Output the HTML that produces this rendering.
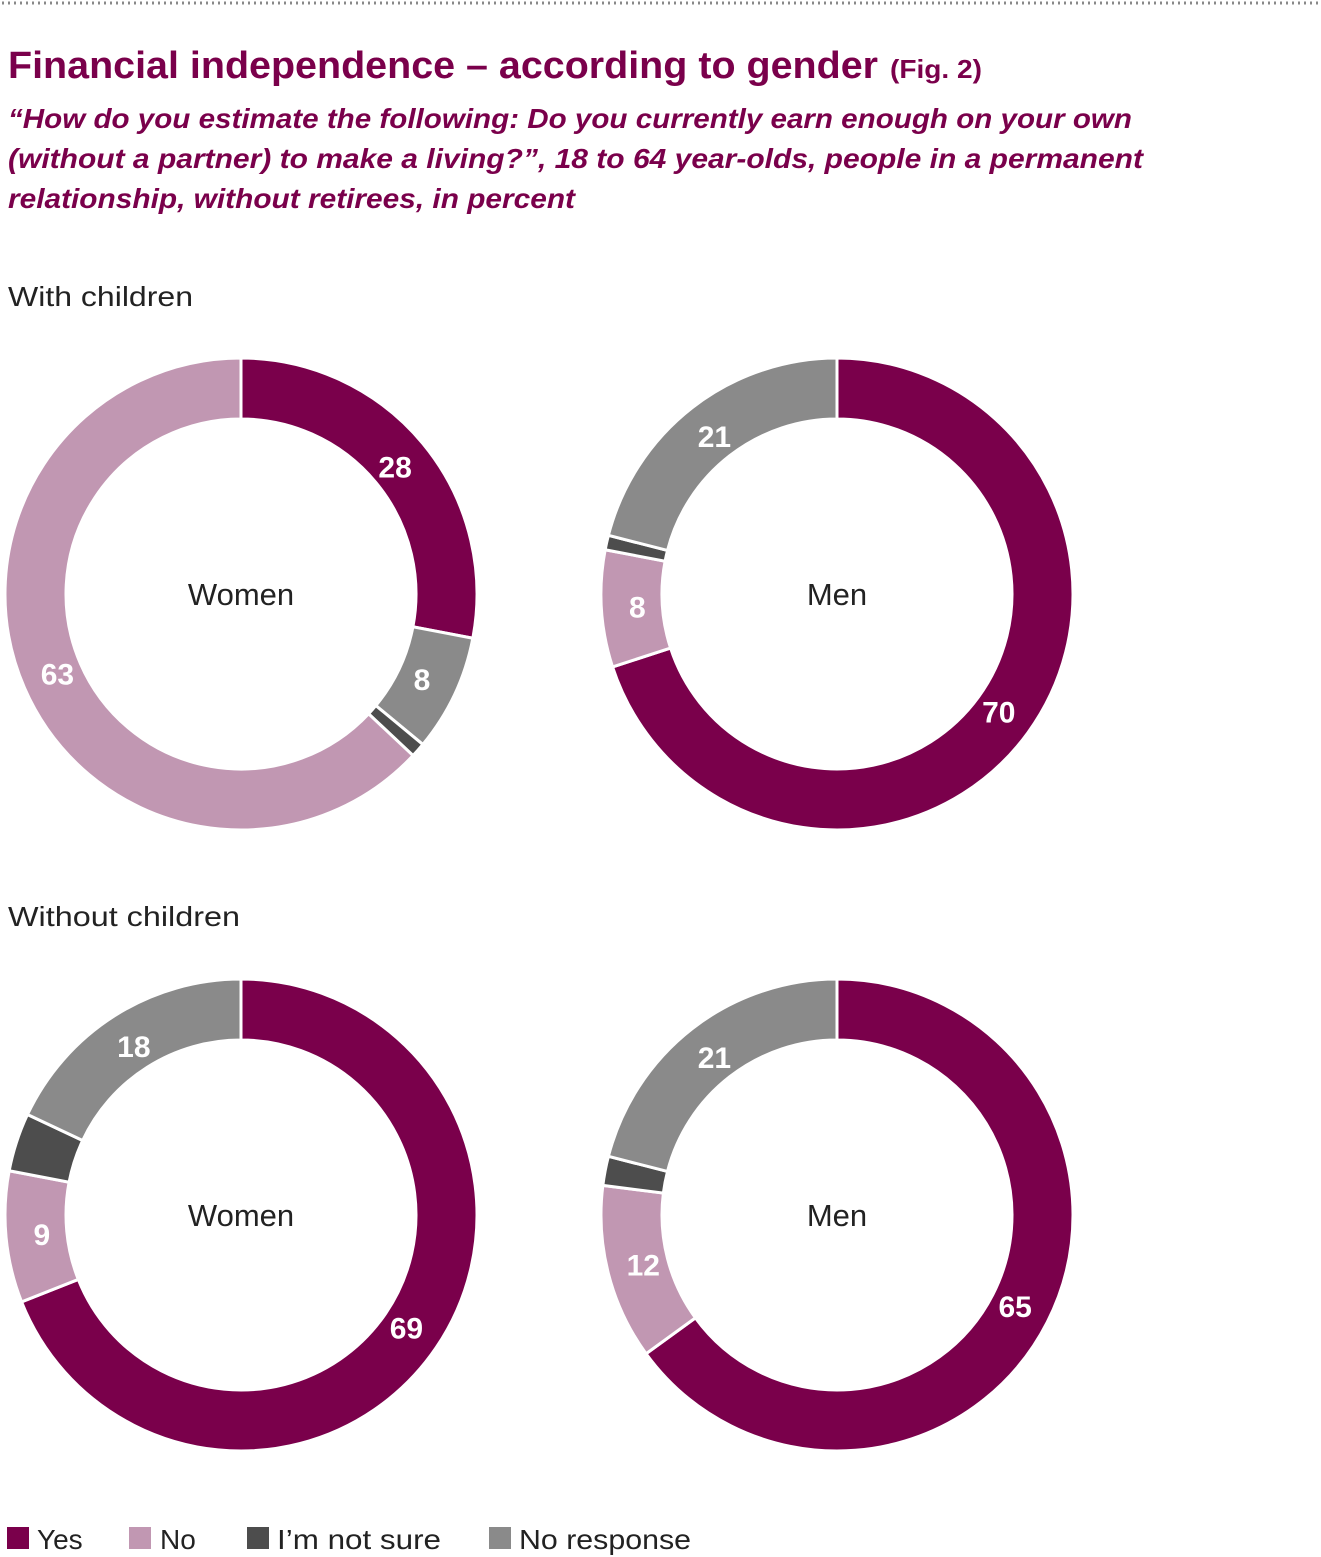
<!DOCTYPE html>
<html><head><meta charset="utf-8"><style>
html,body{margin:0;padding:0;background:#fff;}
svg{display:block;font-family:"Liberation Sans",sans-serif;}
</style></head><body>
<svg width="1321" height="1557" viewBox="0 0 1321 1557">
<line x1="2" y1="3" x2="1321" y2="3" stroke="#888" stroke-width="3" stroke-dasharray="2 4"/>
<text x="8" y="78" font-size="38" font-weight="bold" fill="#7a004b" textLength="870" lengthAdjust="spacingAndGlyphs">Financial independence – according to gender</text>
<text x="890" y="78" font-size="26" font-weight="bold" fill="#7a004b" textLength="92" lengthAdjust="spacingAndGlyphs">(Fig. 2)</text>
<g font-size="28" font-weight="bold" font-style="italic" fill="#7a004b">
<text x="8" y="128" textLength="1124" lengthAdjust="spacingAndGlyphs">“How do you estimate the following: Do you currently earn enough on your own</text>
<text x="8" y="168" textLength="1135" lengthAdjust="spacingAndGlyphs">(without a partner) to make a living?”, 18 to 64 year-olds, people in a permanent</text>
<text x="8" y="208" textLength="567" lengthAdjust="spacingAndGlyphs">relationship, without retirees, in percent</text>
</g>
<text x="8" y="306" font-size="28" fill="#222" textLength="185" lengthAdjust="spacingAndGlyphs">With children</text>
<text x="8" y="926" font-size="28" fill="#222" textLength="232" lengthAdjust="spacingAndGlyphs">Without children</text>
<g id="donuts"></g>
<g font-size="28" fill="#222">
<rect x="7" y="1527" width="22" height="22" fill="#7a004b"/>
<text x="37" y="1549">Yes</text>
<rect x="129" y="1527" width="22" height="22" fill="#c197b2"/>
<text x="160" y="1549">No</text>
<rect x="247" y="1527" width="22" height="22" fill="#4d4d4d"/>
<text x="277" y="1549" textLength="164" lengthAdjust="spacingAndGlyphs">I’m not sure</text>
<rect x="489" y="1527" width="22" height="22" fill="#8a8a8a"/>
<text x="519" y="1549" textLength="172" lengthAdjust="spacingAndGlyphs">No response</text>
</g>
</svg>
<script>
const colors = {yes:'#7a004b', no:'#c197b2', notsure:'#4d4d4d', noresp:'#8a8a8a'};
const chartTitles = ['Women','Men','Women','Men'];
const chartKeys = ['women-with-children','men-with-children','women-without-children','men-without-children'];
const cat1 = ['yes','noresp','notsure','no'];
const val1 = [28,8,1,63];
const cat2 = ['yes','no','notsure','noresp'];
const val2 = [70,8,1,21];
const cat3 = ['yes','no','notsure','noresp'];
const val3 = [69,9,4,18];
const cat4 = ['yes','no','notsure','noresp'];
const val4 = [65,12,2,21];
const labelsShown1 = [true,true,false,true];
const labelsShown2 = [true,true,false,true];
const labelsShown3 = [true,true,false,true];
const labelsShown4 = [true,true,false,true];

const NS='http://www.w3.org/2000/svg';
const root=document.getElementById('donuts');
const centers=[[241,594],[837,594],[241,1215],[837,1215]];
const R=236, r=175;
function pt(cx,cy,rad,frac){const a=frac*2*Math.PI;return [cx+rad*Math.sin(a), cy-rad*Math.cos(a)];}
function drawDonut(i,cats,vals,shown){
  const [cx,cy]=centers[i];
  const g=document.createElementNS(NS,'g');
  
  
  root.appendChild(g);
  const total=vals.reduce((a,b)=>a+b,0);
  let acc=0;
  vals.forEach((v,j)=>{
    const f0=acc/total, f1=(acc+v)/total; acc+=v;
    const large=(f1-f0)>0.5?1:0;
    const [x0,y0]=pt(cx,cy,R,f0),[x1,y1]=pt(cx,cy,R,f1),[x2,y2]=pt(cx,cy,r,f1),[x3,y3]=pt(cx,cy,r,f0);
    const p=document.createElementNS(NS,'path');
    p.setAttribute('d',`M${x0},${y0}A${R},${R} 0 ${large} 1 ${x1},${y1}L${x2},${y2}A${r},${r} 0 ${large} 0 ${x3},${y3}Z`);
    p.setAttribute('fill',colors[cats[j]]);
    p.setAttribute('stroke','#fff');
    p.setAttribute('stroke-width','3');
    
    
    g.appendChild(p);
    if(shown[j]){
      const [lx,ly]=pt(cx,cy,200,(f0+f1)/2);
      const t=document.createElementNS(NS,'text');
      t.setAttribute('x',lx);t.setAttribute('y',ly+11);
      t.setAttribute('text-anchor','middle');t.setAttribute('font-size','30');
      t.setAttribute('font-weight','bold');t.setAttribute('fill','#fff');
      
      
      t.textContent=v;
      g.appendChild(t);
    }
  });
  const c=document.createElementNS(NS,'text');
  c.setAttribute('x',cx);c.setAttribute('y',cy+11);
  c.setAttribute('text-anchor','middle');c.setAttribute('font-size','31');c.setAttribute('fill','#222');
  
  
  c.textContent=chartTitles[i];
  g.appendChild(c);
}
drawDonut(0,cat1,val1,labelsShown1);
drawDonut(1,cat2,val2,labelsShown2);
drawDonut(2,cat3,val3,labelsShown3);
drawDonut(3,cat4,val4,labelsShown4);
</script>
</body></html>
